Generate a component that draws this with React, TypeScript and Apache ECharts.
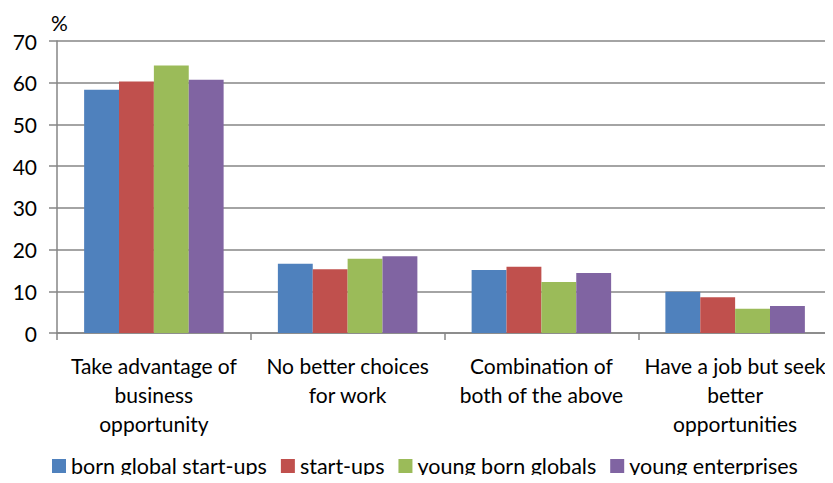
import React, { useEffect, useRef } from "react";
import * as echarts from "echarts";

const categories = [
  "Take advantage of\nbusiness\nopportunity",
  "No better choices\nfor work",
  "Combination of\nboth of the above",
  "Have a job but seek\nbetter\nopportunities",
];
const seriesNames = ["born global start-ups", "start-ups", "young born globals", "young enterprises"];
const bornGlobalStartups = [58.3, 16.6, 15.1, 9.9];
const startups = [60.3, 15.3, 15.9, 8.6];
const youngBornGlobals = [64.1, 17.8, 12.2, 5.8];
const youngEnterprises = [60.7, 18.4, 14.4, 6.5];
const colors = ["#4F81BD", "#C0504D", "#9BBB59", "#8064A2"];

const FONT = "Lato, 'Liberation Sans', sans-serif";

export default function App() {
  const ref = useRef<HTMLDivElement>(null);
  useEffect(() => {
    if (!ref.current) return;
    const chart = echarts.init(ref.current, undefined, { renderer: "svg" });
    const data = [bornGlobalStartups, startups, youngBornGlobals, youngEnterprises];
    chart.setOption({
      animation: false,
      textStyle: { fontFamily: FONT },
      grid: { left: 57, right: 1, top: 41, bottom: 150, containLabel: false },
      legend: {
        top: 454,
        left: 52,
        padding: 0,
        itemWidth: 14,
        itemHeight: 14,
        itemGap: 14,
        icon: "rect",
        textStyle: { fontFamily: FONT, fontSize: 21.5, lineHeight: 24, color: "#000" },
        data: seriesNames,
      },
      xAxis: {
        type: "category",
        data: categories,
        axisLine: { lineStyle: { color: "#868686", width: 1.5 } },
        axisTick: { show: true, length: 7, lineStyle: { color: "#868686", width: 1.5 } },
        axisLabel: { color: "#000", fontSize: 21, lineHeight: 29, margin: 18, interval: 0, fontFamily: FONT },
      },
      yAxis: {
        type: "value",
        min: 0,
        max: 70,
        interval: 10,
        name: "%",
        nameLocation: "end",
        nameGap: 8,
        nameTextStyle: { color: "#000", fontSize: 21, fontFamily: FONT, align: "left", padding: [0, 0, 0, -6] },
        axisLine: { show: true, lineStyle: { color: "#868686", width: 1.5 } },
        axisTick: { show: true, length: 8, lineStyle: { color: "#868686", width: 1.5 } },
        splitLine: { lineStyle: { color: "#868686", width: 1.5 } },
        axisLabel: { color: "#000", fontSize: 21, margin: 20, fontFamily: FONT },
      },
      series: seriesNames.map((name, i) => ({
        name,
        type: "bar",
        data: data[i],
        itemStyle: { color: colors[i] },
        barGap: "0%",
        barCategoryGap: "28%",
      })),
    });
    return () => chart.dispose();
  }, []);
  return <div ref={ref} style={{ width: 833, height: 483, margin: -8 }} />;
}
